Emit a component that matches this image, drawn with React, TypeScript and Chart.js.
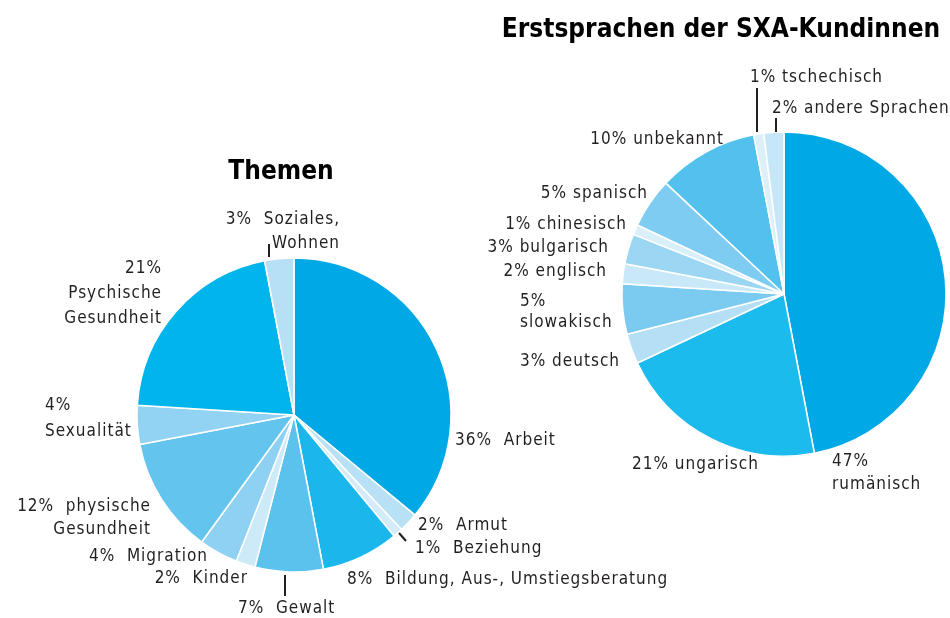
import React, { useEffect, useRef } from "react";
import { Chart, registerables } from "chart.js";

Chart.register(...registerables);

// ---------- DATA ----------
const themenTitle = "Themen";
const themenLabels = [
  "Arbeit",
  "Armut",
  "Beziehung",
  "Bildung, Aus-, Umstiegsberatung",
  "Gewalt",
  "Kinder",
  "Migration",
  "physische Gesundheit",
  "Sexualität",
  "Psychische Gesundheit",
  "Soziales, Wohnen",
];
const themenValues = [36, 2, 1, 8, 7, 2, 4, 12, 4, 21, 3];
const themenColors = [
  "#00a9e6",
  "#b9e1f6",
  "#d4ecf9",
  "#1bb7ec",
  "#5bc2ee",
  "#cdeaf9",
  "#8ed1f2",
  "#63c4ee",
  "#92d2f2",
  "#00b5ec",
  "#b7e0f6",
];

const sprachenTitle = "Erstsprachen der SXA-Kundinnen";
const sprachenLabels = [
  "rumänisch",
  "ungarisch",
  "deutsch",
  "slowakisch",
  "englisch",
  "bulgarisch",
  "chinesisch",
  "spanisch",
  "unbekannt",
  "tschechisch",
  "andere Sprachen",
];
const sprachenValues = [47, 21, 3, 5, 2, 3, 1, 5, 10, 1, 2];
const sprachenColors = [
  "#00a9e6",
  "#1cbbed",
  "#b4dff5",
  "#7bcbf1",
  "#c9e8f8",
  "#9bd6f3",
  "#d9effa",
  "#7eccf1",
  "#52c1ee",
  "#ddf0fa",
  "#c7e7f8",
];

// ---------- LABEL LAYOUT (offsets relative to pie centre) ----------
type LabelLayout = {
  x: number;
  y: number;
  align: CanvasTextAlign;
  lh?: number;
  breakAfterPct?: boolean;
  breakName?: boolean;
  leader?: [number, number, number, number];
};

const themenLayout: LabelLayout[] = [
  { x: 161, y: 24, align: "left" },
  { x: 124, y: 109, align: "left" },
  { x: 121, y: 132, align: "left", leader: [105, 118, 112, 126] },
  { x: 53, y: 163, align: "left" },
  { x: -56, y: 192, align: "left", leader: [-9, 160, -9, 181] },
  { x: -47, y: 162, align: "right" },
  { x: -87, y: 140, align: "right" },
  { x: -144, y: 90, align: "right", lh: 23, breakName: true },
  { x: -249, y: -11, align: "left", lh: 26, breakAfterPct: true },
  { x: -133, y: -148, align: "right", lh: 25, breakAfterPct: true, breakName: true },
  { x: 45, y: -197, align: "right", lh: 24, breakName: true, leader: [-25, -171, -25, -158] },
];

const sprachenLayout: LabelLayout[] = [
  { x: 48, y: 166, align: "left", lh: 23, breakAfterPct: true },
  { x: -152, y: 169, align: "left" },
  { x: -264, y: 66, align: "left" },
  { x: -264, y: 6, align: "left", lh: 21, breakAfterPct: true },
  { x: -178, y: -24, align: "right" },
  { x: -176, y: -48, align: "right" },
  { x: -158, y: -71, align: "right" },
  { x: -137, y: -102, align: "right" },
  { x: -61, y: -156, align: "right" },
  { x: -34, y: -218, align: "left", leader: [-27, -206, -27, -162] },
  { x: -12, y: -187, align: "left", leader: [-8, -176, -8, -162] },
];

const FONT = '"DejaVu Sans Condensed", "DejaVu Sans", sans-serif';
const TEXT_COLOR = "#231f20";

type PieCfg = {
  title: string;
  titleDx: number;
  titleDy: number;
  titleSize: number;
  labels: string[];
  values: number[];
  colors: string[];
  layout: LabelLayout[];
  sep: string;
  padding: { left: number; right: number; top: number; bottom: number };
  radius: number;
};

function makeLabelPlugin(cfg: PieCfg) {
  return {
    id: "extLabels",
    afterDraw(chart: any) {
      const meta = chart.getDatasetMeta(0);
      const first = meta.data[0];
      if (!first) return;
      const cx = first.x;
      const cy = first.y;
      const ctx: any = chart.ctx;
      ctx.save();
      ctx.fillStyle = "#000";
      ctx.textAlign = "center";
      ctx.textBaseline = "middle";
      ctx.letterSpacing = "0px";
      ctx.font = `bold ${cfg.titleSize}px ${FONT}`;
      ctx.fillText(cfg.title, cx + cfg.titleDx, cy + cfg.titleDy);

      ctx.font = `17px ${FONT}`;
      ctx.letterSpacing = "1px";
      ctx.fillStyle = TEXT_COLOR;
      ctx.strokeStyle = TEXT_COLOR;
      ctx.lineWidth = 2;
      cfg.values.forEach((v, i) => {
        const lay = cfg.layout[i];
        const name = cfg.labels[i];
        const pct = `${v}%`;
        let nameParts = [name];
        if (lay.breakName) {
          const k = name.indexOf(" ");
          nameParts = [name.slice(0, k), name.slice(k + 1)];
        }
        let lines: string[];
        if (lay.breakAfterPct) lines = [pct, ...nameParts];
        else lines = [pct + cfg.sep + nameParts[0], ...nameParts.slice(1)];
        const lh = lay.lh ?? 24;
        ctx.textAlign = lay.align;
        const xOff = lay.align === "right" ? 1 : 0;
        lines.forEach((t, j) => {
          ctx.fillText(t, cx + lay.x + xOff, cy + lay.y + 2 + j * lh);
        });
        if (lay.leader) {
          const [x1, y1, x2, y2] = lay.leader;
          ctx.beginPath();
          ctx.moveTo(cx + x1, cy + y1);
          ctx.lineTo(cx + x2, cy + y2);
          ctx.stroke();
        }
      });
      ctx.restore();
    },
  };
}

function PieCanvas({ cfg }: { cfg: PieCfg }) {
  const ref = useRef<HTMLCanvasElement | null>(null);
  useEffect(() => {
    if (!ref.current) return;
    const chart = new Chart(ref.current, {
      type: "pie",
      data: {
        labels: cfg.labels,
        datasets: [
          {
            data: cfg.values,
            backgroundColor: cfg.colors,
            borderColor: "#ffffff",
            borderWidth: 1.5,
            hoverOffset: 0,
          } as any,
        ],
      },
      options: {
        responsive: false,
        animation: false,
        radius: cfg.radius,
        layout: { padding: cfg.padding },
        plugins: {
          legend: { display: false },
          tooltip: { enabled: false },
          title: { display: false },
        },
        events: [],
      } as any,
      plugins: [makeLabelPlugin(cfg)],
    });
    return () => chart.destroy();
  }, [cfg]);
  return (
    <canvas
      ref={ref}
      width={950}
      height={618}
      style={{ position: "absolute", left: 0, top: 0, width: 950, height: 618 }}
    />
  );
}

const themenCfg: PieCfg = {
  title: themenTitle,
  titleDx: -13,
  titleDy: -243,
  titleSize: 26,
  labels: themenLabels,
  values: themenValues,
  colors: themenColors,
  layout: themenLayout,
  sep: "  ",
  padding: { left: 137, right: 499, top: 258, bottom: 46 },
  radius: 157,
};

const sprachenCfg: PieCfg = {
  title: sprachenTitle,
  titleDx: -63,
  titleDy: -264,
  titleSize: 26,
  labels: sprachenLabels,
  values: sprachenValues,
  colors: sprachenColors,
  layout: sprachenLayout,
  sep: " ",
  padding: { left: 634, right: 16, top: 144, bottom: 174 },
  radius: 162,
};

export default function App() {
  return (
    <div
      style={{
        position: "fixed",
        left: 0,
        top: 0,
        width: 950,
        height: 618,
        background: "#ffffff",
        overflow: "hidden",
      }}
    >
      <PieCanvas cfg={themenCfg} />
      <PieCanvas cfg={sprachenCfg} />
    </div>
  );
}
